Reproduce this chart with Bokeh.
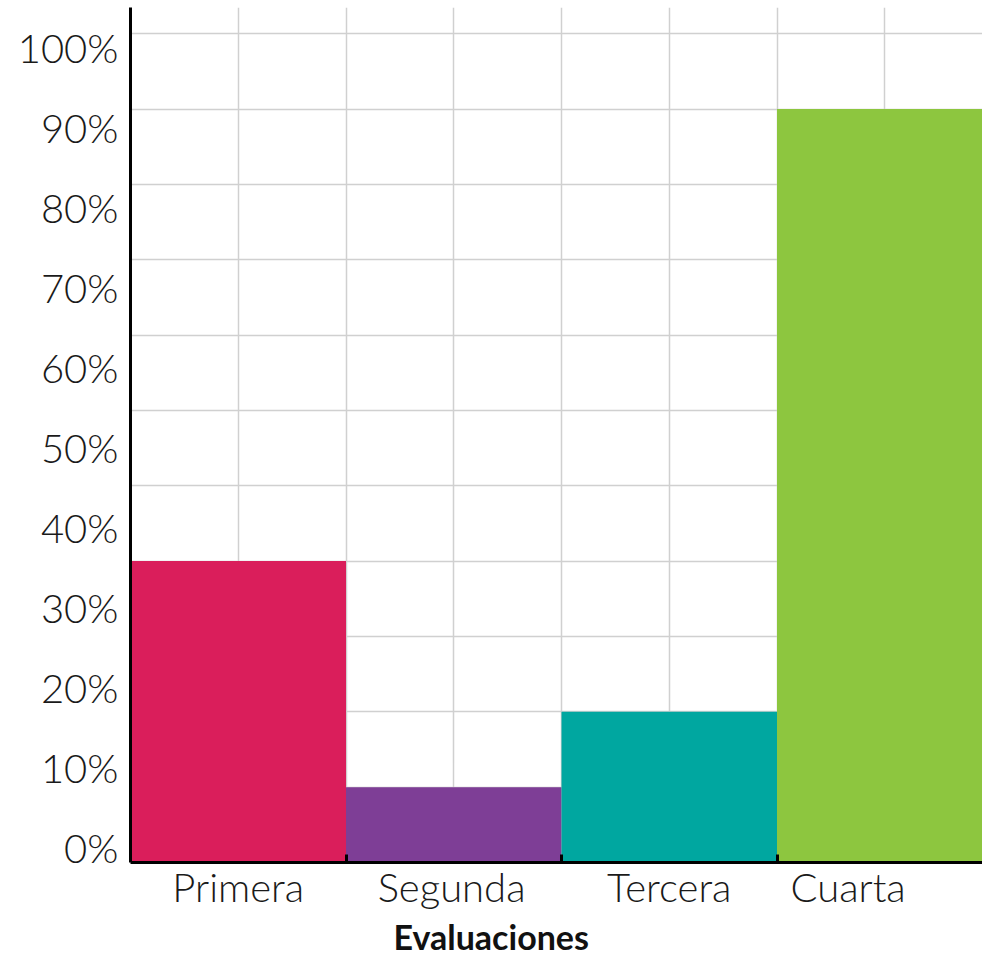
from bokeh.plotting import figure
from bokeh.models import Range1d, FixedTicker, Title
from bokeh.embed import file_html
from bokeh.resources import INLINE

# ---- data ----
categories = ["Primera", "Segunda", "Tercera", "Cuarta"]
values = [36, 9, 18, 90]          # percent
colors = ["#DA1E5B", "#7E3E96", "#00A7A0", "#8DC63F"]
y_tick_values = [0, 10, 20, 30, 40, 50, 60, 70, 80, 90, 100]
y_tick_labels = [f"{v}%" for v in y_tick_values]
grid_step = 9                      # background grid spacing (percent)

# ---- layout constants ----
FONT = "Lato Light"
px_per_pct = 8.372
frame_h = 862 - 7
label_px_step = 80.0
label_px_offset = 15.0
label_pos = [(label_px_offset + label_px_step * v / 10) / px_per_pct for v in y_tick_values]
x_label_shift = [0.0, -0.01, 0.0, -0.17]

xs = [i + 0.5 for i in range(len(categories))]
xlab_pos = [x + s for x, s in zip(xs, x_label_shift)]

p = figure(width=982, height=958, output_backend="svg", toolbar_location=None,
           x_range=Range1d(0, 852 / 215.5), y_range=Range1d(0, frame_h / px_per_pct),
           min_border_left=130, min_border_right=0, min_border_top=7, min_border_bottom=96)
p.outline_line_color = None
p.background_fill_color = "white"
p.border_fill_color = "white"

p.vbar(x=xs, top=values, width=1.0, bottom=0, color=colors, line_color=None)

# grid
p.xgrid.ticker = FixedTicker(ticks=[0.5 * k for k in range(1, 8)])
p.ygrid.ticker = FixedTicker(ticks=[grid_step * k for k in range(1, 12)])
for g in (p.xgrid, p.ygrid):
    g.grid_line_color = "#d0d0d0"
    g.grid_line_width = 1.5

# y axis
ya = p.yaxis[0]
ya.ticker = FixedTicker(ticks=label_pos)
ya.major_label_overrides = {lp: t for lp, t in zip(label_pos, y_tick_labels)}
ya.major_tick_in = 0
ya.major_tick_out = 0
ya.minor_tick_line_color = None
ya.axis_line_color = "black"
ya.axis_line_width = 3
ya.major_label_text_font = FONT
ya.major_label_text_font_size = "40px"
ya.major_label_text_color = "#1a1a1a"
ya.major_label_standoff = 12

# x axis
xa = p.xaxis[0]
xa.ticker = FixedTicker(ticks=xlab_pos, minor_ticks=[1, 2, 3])
xa.major_label_overrides = {lp: c for lp, c in zip(xlab_pos, categories)}
xa.major_tick_in = 0
xa.major_tick_out = 0
xa.minor_tick_in = 8
xa.minor_tick_out = 0
xa.minor_tick_line_width = 3
xa.minor_tick_line_color = "black"
xa.axis_line_color = "black"
xa.axis_line_width = 3
xa.major_label_text_font = FONT
xa.major_label_text_font_size = "40px"
xa.major_label_text_color = "#1a1a1a"
xa.major_label_standoff = 0

t = Title(text="Evaluaciones", align="left", offset=263, text_font="Lato",
          text_font_size="34px", text_font_style="bold", text_color="#111111", standoff=0)
p.add_layout(t, "below")

open("out.html", "w").write(file_html(p, INLINE))
